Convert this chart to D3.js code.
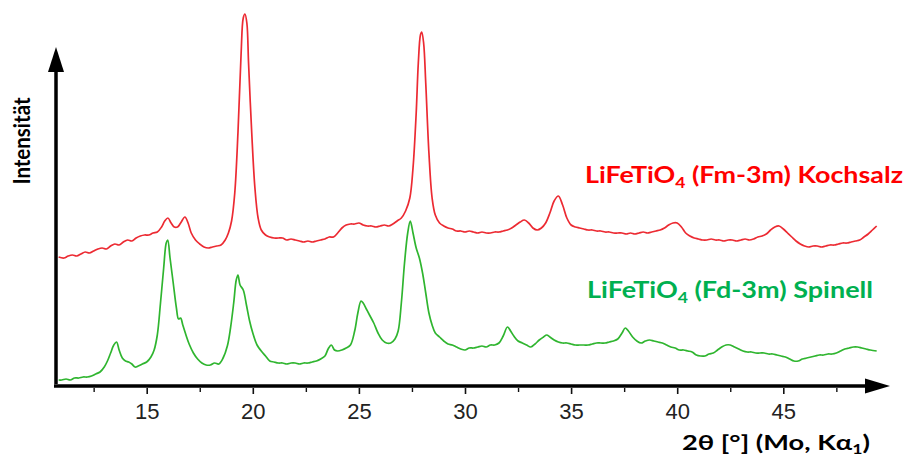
<!DOCTYPE html>
<html><head><meta charset="utf-8">
<script src="https://cdn.jsdelivr.net/npm/d3@7"></script>
<style>body{margin:0;background:#fff;overflow:hidden}</style>
</head><body>
<svg id="chart" width="907" height="458"></svg>
<script>
// ---- data (2θ in degrees, intensity in arbitrary units) ----
const xTicks = [15, 20, 25, 30, 35, 40, 45];
const xMinorTicks = [12.5, 17.5, 22.5, 27.5, 32.5, 37.5, 42.5, 47.5];
const seriesNames = ["Kochsalz (Fm-3m)", "Spinell (Fd-3m)"];

const kochsalz = [
[10.85,126],[11.1,125],[11.3,127],[11.5,128],[11.7,127],[11.9,129],[12.1,131],[12.3,130],[12.5,132],[12.7,134],
[12.9,135],[13.1,134],[13.3,137],[13.5,139],[13.7,138],[13.9,141],[14.1,143],[14.3,142],[14.5,145],[14.7,147],
[14.9,148],[15.1,148],[15.3,150],[15.5,151],[15.7,156],[15.85,162],[16.0,165],[16.15,160],[16.3,156],[16.45,156],
[16.6,160],[16.8,166],[16.95,160],[17.1,150],[17.3,143],[17.5,139],[17.7,136],[17.9,135],[18.1,136],[18.3,137],
[18.5,138],[18.7,143],[18.85,150],[19.0,162],[19.15,190],[19.3,250],[19.45,330],[19.55,365],[19.63,369],[19.72,360],
[19.8,320],[19.95,250],[20.1,195],[20.25,165],[20.4,153],[20.6,148],[20.8,146],[21.0,145],[21.2,145],[21.4,145],
[21.6,143],[21.8,144],[22.0,143],[22.2,142],[22.4,141],[22.6,142],[22.8,141],[23.0,142],[23.2,143],[23.4,144],
[23.6,146],[23.8,146],[24.0,150],[24.2,155],[24.4,158],[24.6,159],[24.8,159],[25.0,160],[25.2,158],[25.4,157],
[25.6,157],[25.8,156],[26.0,157],[26.2,158],[26.4,157],[26.6,159],[26.8,162],[27.0,165],[27.2,172],[27.4,185],
[27.55,215],[27.7,270],[27.8,320],[27.9,348],[27.96,351],[28.05,340],[28.15,300],[28.3,230],[28.45,185],[28.6,168],
[28.8,160],[29.0,157],[29.2,155],[29.4,154],[29.6,152],[29.8,152],[30.0,151],[30.2,152],[30.4,151],[30.6,150],
[30.8,151],[31.0,150],[31.2,150],[31.4,151],[31.6,151],[31.8,152],[32.0,153],[32.2,155],[32.4,158],[32.6,161],
[32.8,163],[33.0,160],[33.2,155],[33.4,153],[33.6,155],[33.8,160],[34.0,170],[34.2,182],[34.4,187],[34.6,178],
[34.8,165],[35.0,158],[35.2,156],[35.4,155],[35.6,154],[35.8,153],[36.0,153],[36.2,152],[36.4,152],[36.6,151],
[36.8,151],[37.0,150],[37.2,150],[37.4,150],[37.6,149],[37.8,150],[38.0,149],[38.2,150],[38.4,151],[38.6,150],
[38.8,151],[39.0,152],[39.2,153],[39.4,155],[39.6,158],[39.8,160],[40.0,160],[40.2,156],[40.4,150],[40.6,147],
[40.8,145],[41.0,144],[41.2,143],[41.4,143],[41.6,144],[41.8,143],[42.0,143],[42.2,142],[42.4,143],[42.6,143],
[42.8,142],[43.0,143],[43.2,144],[43.4,143],[43.6,144],[43.8,146],[44.0,147],[44.2,149],[44.4,153],[44.6,156],
[44.8,157],[45.0,154],[45.2,150],[45.4,146],[45.6,142],[45.8,139],[46.0,137],[46.2,136],[46.4,137],[46.6,137],
[46.8,136],[47.0,137],[47.2,138],[47.4,138],[47.6,139],[47.8,140],[48.0,140],[48.2,141],[48.4,142],[48.6,143],
[48.8,146],[49.0,149],[49.2,153],[49.4,157]
];

const spinell = [
[10.85,3],[11.0,3],[11.2,4],[11.4,3],[11.6,5],[11.8,5],[12.0,6],[12.2,6],[12.4,7],[12.6,9],
[12.8,11],[13.0,16],[13.15,22],[13.3,30],[13.45,38],[13.58,41],[13.7,33],[13.85,25],[14.0,22],[14.15,21],
[14.3,19],[14.45,16],[14.6,17],[14.8,19],[15.0,21],[15.2,26],[15.35,33],[15.5,48],[15.65,80],[15.8,115],
[15.92,140],[15.99,143],[16.1,125],[16.25,100],[16.4,75],[16.5,64],[16.6,65],[16.7,58],[16.85,48],[17.0,39],
[17.2,30],[17.4,24],[17.6,20],[17.8,18],[18.0,18],[18.2,20],[18.4,19],[18.6,25],[18.8,37],[18.95,55],
[19.1,80],[19.22,103],[19.3,108],[19.4,98],[19.55,93],[19.7,78],[19.85,62],[20.0,50],[20.2,38],[20.4,32],
[20.6,27],[20.8,22],[21.0,21],[21.2,20],[21.4,20],[21.6,19],[21.8,20],[22.0,20],[22.2,19],[22.4,20],
[22.6,20],[22.8,21],[23.0,22],[23.2,24],[23.4,27],[23.55,34],[23.7,38],[23.85,33],[24.0,32],[24.2,33],
[24.4,35],[24.6,38],[24.8,52],[24.95,70],[25.1,82],[25.2,80],[25.35,74],[25.5,68],[25.7,60],[25.9,50],
[26.1,43],[26.3,40],[26.5,40],[26.7,44],[26.85,52],[27.0,80],[27.15,120],[27.3,150],[27.42,162],[27.55,150],
[27.7,135],[27.85,125],[28.0,110],[28.15,90],[28.3,70],[28.45,58],[28.6,50],[28.8,46],[29.0,42],[29.2,39],
[29.4,38],[29.6,36],[29.8,34],[30.0,33],[30.2,35],[30.4,35],[30.6,36],[30.8,37],[31.0,36],[31.2,38],
[31.4,38],[31.6,40],[31.8,47],[32.0,56],[32.15,52],[32.3,47],[32.5,42],[32.7,40],[32.9,38],[33.1,36],
[33.3,39],[33.5,43],[33.7,46],[33.85,48],[34.0,46],[34.2,43],[34.4,41],[34.6,40],[34.8,40],[35.0,39],
[35.2,38],[35.4,38],[35.6,38],[35.8,38],[36.0,39],[36.2,40],[36.4,40],[36.6,40],[36.8,41],[37.0,42],
[37.2,44],[37.4,50],[37.55,55],[37.7,52],[37.9,46],[38.1,42],[38.3,40],[38.5,42],[38.7,43],[38.9,42],
[39.1,41],[39.3,40],[39.5,38],[39.7,36],[39.9,35],[40.1,33],[40.3,33],[40.5,32],[40.7,31],[40.9,28],
[41.1,27],[41.3,27],[41.5,29],[41.7,30],[41.9,33],[42.1,36],[42.3,38],[42.5,38],[42.7,36],[42.9,34],
[43.1,32],[43.3,31],[43.5,31],[43.7,30],[43.9,30],[44.1,30],[44.3,29],[44.5,29],[44.7,28],[44.9,27],
[45.1,26],[45.3,24],[45.5,22],[45.7,22],[45.9,24],[46.1,25],[46.3,26],[46.5,27],[46.7,28],[46.9,28],
[47.1,29],[47.3,29],[47.5,30],[47.7,32],[47.9,34],[48.1,35],[48.3,36],[48.5,36],[48.7,35],[48.9,34],
[49.1,33],[49.4,32]
];

// ---- drawing ----
const svg = d3.select("#chart");
const x = d3.scaleLinear().domain([15, 45]).range([146.7, 783.3]);
const y = d3.scaleLinear().domain([0, 370]).range([383, 13]);

const path = d3.line().x(d => x(d[0])).y(d => y(d[1])).curve(d3.curveCatmullRom.alpha(0.5));

svg.append("path").datum(spinell).attr("d", path)
  .attr("fill", "none").attr("stroke", "#2fb52f").attr("stroke-width", 1.7).attr("stroke-linejoin", "round");
svg.append("path").datum(kochsalz).attr("d", path)
  .attr("fill", "none").attr("stroke", "#ec2a32").attr("stroke-width", 1.7).attr("stroke-linejoin", "round");

// axes
const axisY = 386;
const gx = svg.append("g").attr("transform", `translate(0,${axisY + 2})`)
  .call(d3.axisBottom(x).tickValues(xTicks).tickSize(6).tickPadding(9).tickFormat(d3.format("d")));
gx.select(".domain").remove();
gx.selectAll(".tick line").attr("stroke", "#111").attr("stroke-width", 1.6);
gx.selectAll(".tick text").attr("font-family", "'Liberation Sans', Arial, sans-serif")
  .attr("font-size", 22).attr("fill", "#222");
const gxm = svg.append("g").attr("transform", `translate(0,${axisY + 2})`)
  .call(d3.axisBottom(x).tickValues(xMinorTicks).tickSize(4).tickFormat(""));
gxm.select(".domain").remove();
gxm.selectAll(".tick line").attr("stroke", "#111").attr("stroke-width", 1.4);

// axis lines with arrows
svg.append("line").attr("x1", 54).attr("x2", 868).attr("y1", axisY).attr("y2", axisY)
  .attr("stroke", "#000").attr("stroke-width", 3.5);
svg.append("path").attr("d", `M865,${axisY - 7.5}L890,${axisY}L865,${axisY + 7.5}Z`).attr("fill", "#000");
svg.append("line").attr("x1", 56).attr("x2", 56).attr("y1", 384).attr("y2", 70)
  .attr("stroke", "#000").attr("stroke-width", 3.5);
svg.append("path").attr("d", "M48,72L56,47L64,72Z").attr("fill", "#000");

const labelFont = "Lato, 'Open Sans', sans-serif";

// axis titles
svg.append("text").attr("x", 870).attr("y", 450).attr("text-anchor", "end")
  .attr("font-family", labelFont).attr("font-weight", "bold").attr("font-size", 21).attr("fill", "#000")
  .attr("textLength", 188).attr("lengthAdjust", "spacingAndGlyphs")
  .call(t => {
    t.append("tspan").text("2θ [°] (Mo, Kα");
    t.append("tspan").attr("font-size", "0.65em").attr("dy", 4).text("1");
    t.append("tspan").attr("dy", -4).text(")");
  });

svg.append("text").attr("transform", "translate(30,141) rotate(-90)").attr("text-anchor", "middle")
  .attr("font-family", labelFont).attr("font-weight", "bold").attr("font-size", 23).attr("fill", "#000")
  .attr("textLength", 87).attr("lengthAdjust", "spacingAndGlyphs")
  .text("Intensität");

function label(xp, yp, name, color, target) {
  const t = svg.append("text").attr("x", xp).attr("y", yp)
    .attr("font-family", labelFont).attr("font-weight", "bold").attr("font-size", 22).attr("fill", color)
    .attr("textLength", target).attr("lengthAdjust", "spacingAndGlyphs");
  t.append("tspan").text("LiFeTiO");
  t.append("tspan").attr("font-size", "0.65em").attr("dy", 5).text("4");
  t.append("tspan").attr("dy", -5).text(" " + name);
}
label(585, 183, "(Fm-3m) Kochsalz", "#ff0000", 318);
label(587, 298, "(Fd-3m) Spinell", "#00b050", 286);
</script>
</body></html>
